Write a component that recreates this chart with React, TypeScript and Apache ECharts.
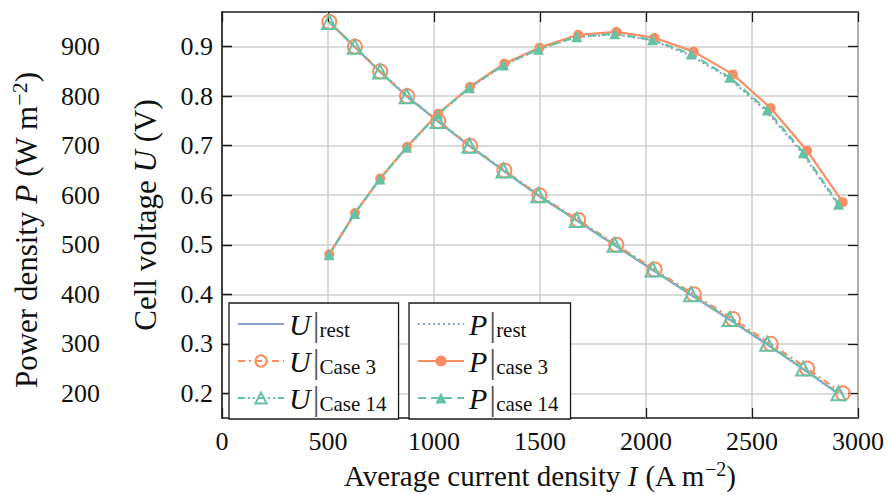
import React, { useEffect, useRef } from 'react';
import * as echarts from 'echarts';

const voltage = [0.95, 0.9, 0.85, 0.8, 0.75, 0.7, 0.65, 0.6, 0.55, 0.5, 0.45, 0.4, 0.35, 0.3, 0.25, 0.2];
const currentCase3 = [506, 627, 746, 873, 1020, 1170, 1332, 1497, 1680, 1860, 2040, 2225, 2410, 2588, 2760, 2928];
const powerCase3 = [481, 564, 634, 698, 765, 819, 866, 898, 924, 930, 918, 890, 844, 776, 690, 586];
const currentCase14 = [505, 626, 745, 871, 1018, 1167, 1328, 1492, 1673, 1852, 2031, 2213, 2395, 2572, 2742, 2908];
const powerCase14 = [480, 563, 633, 697, 764, 817, 863, 895, 920, 926, 914, 885, 838, 772, 686, 582];
const currentRest = [505, 625, 744, 870, 1016, 1165, 1326, 1490, 1670, 1849, 2028, 2208, 2390, 2567, 2738, 2905];
const powerRest = [480, 563, 632, 696, 762, 816, 862, 894, 919, 925, 913, 883, 837, 770, 685, 581];

const uTicks = [0.2, 0.3, 0.4, 0.5, 0.6, 0.7, 0.8, 0.9];
const pTicks = [200, 300, 400, 500, 600, 700, 800, 900];

const legendLabels: Record<string, string> = {
  'U|rest': '{u|U}{bar||}{sub|rest}',
  'U|Case 3': '{u|U}{bar||}{sub|Case 3}',
  'U|Case 14': '{u|U}{bar||}{sub|Case 14}',
  'P|rest': '{u|P}{bar||}{sub|rest}',
  'P|case 3': '{u|P}{bar||}{sub|case 3}',
  'P|case 14': '{u|P}{bar||}{sub|case 14}',
};

const FONT = "'Liberation Serif', 'DejaVu Serif', serif";
const BLUE = '#8da0cb';
const ORANGE = '#fc8d62';
const GREEN = '#66c2a5';
const INK = '#1a1a1a';
const TXT = '#111111';

function pairs(xs: number[], ys: number[]) {
  return xs.map((x, i) => [x, ys[i]]);
}

export default function App() {
  const ref = useRef<HTMLDivElement>(null);
  useEffect(() => {
    if (!ref.current) return;
    const chart = echarts.init(ref.current, null, { renderer: 'svg' });
    const tick = { show: true, inside: true, length: 10, lineStyle: { color: INK, width: 1.3 } };
    const legendRich = {
      u: { fontFamily: FONT, fontStyle: 'italic', fontSize: 30, lineHeight: 32, color: TXT },
      bar: { fontFamily: FONT, fontSize: 34, lineHeight: 32, color: '#555', padding: [0, 0, 0, 2] },
      sub: { fontFamily: FONT, fontSize: 21, lineHeight: 20, color: TXT, padding: [12, 0, 0, 0] },
    };
    const hiddenSymbol = { color: 'rgba(0,0,0,0)', borderWidth: 0, opacity: 0 };
    const legendBase = {
      orient: 'vertical',
      top: 303,
      padding: [4, 12, 4, 8],
      itemGap: 3,
      itemWidth: 46,
      itemHeight: 14,
      borderColor: INK,
      borderWidth: 1.3,
      borderRadius: 0,
      backgroundColor: '#ffffff',
      selectedMode: false,
      formatter: (n: string) => legendLabels[n] || n,
      textStyle: { rich: legendRich },
    };
    const nameRich = (size: number) => ({
      i: { fontFamily: FONT, fontSize: size, fontStyle: 'italic', color: TXT, fill: TXT },
      sup: { fontFamily: FONT, fontSize: Math.round(size * 0.7), color: TXT, fill: TXT, padding: [0, 0, Math.round(size * 0.45), 0] },
    });
    const option: any = {
      animation: false,
      grid: { left: 222, right: 28, top: 12, bottom: 74, show: true, borderColor: INK, borderWidth: 1.5 },
      xAxis: [
        {
          type: 'value', position: 'bottom', min: 0, max: 3000, interval: 500,
          name: 'Average current density {i|I} (A m{sup|−2})',
          nameLocation: 'middle', nameGap: 38,
          nameTextStyle: { fontFamily: FONT, fontSize: 29, color: TXT, rich: nameRich(29) },
          axisLine: { show: false },
          axisTick: tick,
          axisLabel: { fontFamily: FONT, fontSize: 26, color: TXT, margin: 10, formatter: (v: number) => String(v) },
          splitLine: { show: true, lineStyle: { color: '#cfcfcf', width: 1.5 } },
        },
        {
          type: 'value', position: 'top', min: 0, max: 3000, interval: 500,
          axisLine: { show: false }, axisTick: tick, axisLabel: { show: false }, splitLine: { show: false },
        },
      ],
      yAxis: [
        {
          type: 'value', position: 'left', min: 0.15, max: 0.97, splitNumber: 8,
          axisLine: { show: false },
          axisTick: { ...tick, customValues: uTicks },
          axisLabel: { fontFamily: FONT, fontSize: 26, color: TXT, margin: 9, customValues: uTicks, formatter: (v: number) => v.toFixed(1) },
          splitLine: { show: true, lineStyle: { color: '#cfcfcf', width: 1.5 } },
        },
        {
          type: 'value', position: 'left', offset: 113, min: 150, max: 970, splitNumber: 8,
          axisLine: { show: true, lineStyle: { color: INK, width: 1.5 } },
          axisTick: { ...tick, customValues: pTicks },
          axisLabel: { fontFamily: FONT, fontSize: 26, color: TXT, margin: 9, customValues: pTicks, formatter: (v: number) => String(v) },
          splitLine: { show: false },
        },
        {
          type: 'value', position: 'right', min: 0.15, max: 0.97, splitNumber: 8,
          axisLine: { show: false },
          axisTick: { ...tick, customValues: uTicks },
          axisLabel: { show: false },
          splitLine: { show: false },
        },
      ],
      legend: [
        {
          ...legendBase, left: 229,
          data: [{ name: 'U|rest', itemStyle: hiddenSymbol }, 'U|Case 3', 'U|Case 14'],
        },
        {
          ...legendBase, left: 409,
          data: [{ name: 'P|rest', itemStyle: hiddenSymbol }, 'P|case 3', 'P|case 14'],
        },
      ],
      graphic: [
        {
          type: 'text', x: 26, y: 230, rotation: Math.PI / 2,
          style: {
            text: 'Power density {i|P} (W m{sup|−2})',
            fontFamily: FONT, fontSize: 31, fill: TXT, align: 'center', verticalAlign: 'middle',
            rich: nameRich(31),
          },
        },
        {
          type: 'text', x: 145, y: 215, rotation: Math.PI / 2,
          style: {
            text: 'Cell voltage {i|U} (V)',
            fontFamily: FONT, fontSize: 31, fill: TXT, align: 'center', verticalAlign: 'middle',
            rich: nameRich(31),
          },
        },
      ],
      series: [
        {
          name: 'P|rest', type: 'line', yAxisIndex: 1, data: pairs(currentRest, powerRest),
          showSymbol: false, symbol: 'none', color: BLUE,
          lineStyle: { color: BLUE, width: 2.2, type: [2, 3] },
        },
        {
          name: 'P|case 3', type: 'line', yAxisIndex: 1, data: pairs(currentCase3, powerCase3),
          symbol: 'circle', symbolSize: 10, color: ORANGE,
          itemStyle: { color: ORANGE },
          lineStyle: { color: ORANGE, width: 2.2, type: 'solid' },
        },
        {
          name: 'P|case 14', type: 'line', yAxisIndex: 1, data: pairs(currentCase14, powerCase14),
          symbol: 'triangle', symbolSize: 11, color: GREEN,
          itemStyle: { color: GREEN },
          lineStyle: { color: GREEN, width: 2.2, type: [8, 5] },
        },
        {
          name: 'U|rest', type: 'line', yAxisIndex: 0, data: pairs(currentRest, voltage),
          showSymbol: false, symbol: 'none', color: BLUE,
          lineStyle: { color: BLUE, width: 2.2, type: 'solid' },
        },
        {
          name: 'U|Case 3', type: 'line', yAxisIndex: 0, data: pairs(currentCase3, voltage),
          symbol: 'circle', symbolSize: 14, color: ORANGE,
          itemStyle: { color: 'rgba(255,255,255,0)', borderColor: ORANGE, borderWidth: 2 },
          lineStyle: { color: ORANGE, width: 2.2, type: [7, 4, 2, 4] },
        },
        {
          name: 'U|Case 14', type: 'line', yAxisIndex: 0, data: pairs(currentCase14, voltage),
          symbol: 'triangle', symbolSize: 14, color: GREEN,
          itemStyle: { color: 'rgba(255,255,255,0)', borderColor: GREEN, borderWidth: 2 },
          lineStyle: { color: GREEN, width: 2.2, type: [7, 3, 2, 3, 2, 3] },
        },
      ],
    };
    chart.setOption(option);
    return () => chart.dispose();
  }, []);
  return (
    <div
      ref={ref}
      style={{ position: 'fixed', left: 0, top: 0, width: 887, height: 495, background: '#ffffff' }}
    />
  );
}
